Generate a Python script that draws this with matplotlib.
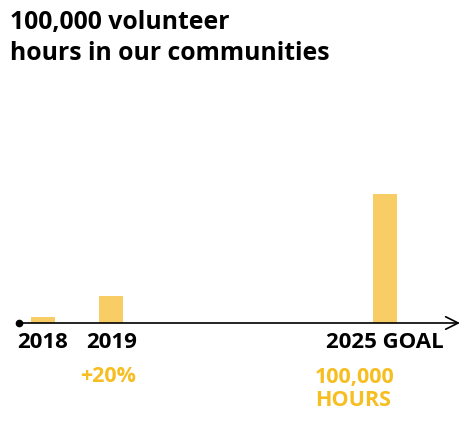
import matplotlib
matplotlib.use("Agg")
import matplotlib.pyplot as plt

# Data
categories = ["2018", "2019", "2025 GOAL"]
positions = [0, 1, 5]
hours = [4700, 21000, 100000]
title = "100,000 volunteer\nhours in our communities"
note_2019 = "+20%"
note_goal = "100,000\nHOURS"

BAR = "#F8CD66"
TXT_Y = "#F6BE21"
FONT = "Open Sans"

W, H = 474, 423
fig = plt.figure(figsize=(W / 100, H / 100), dpi=100)

px_per_unit = 68.4
x0_px = 43
left_px, right_px = 19, 460
base_px = 323  # from top
top_px = 194

ax = fig.add_axes([left_px / W, (H - base_px) / H, (right_px - left_px) / W, (base_px - top_px) / H])
ax.set_xlim((left_px - x0_px) / px_per_unit, (right_px - x0_px) / px_per_unit)
ax.set_ylim(0, 100000)
ax.axis("off")

ax.bar(positions, hours, width=24 / px_per_unit, color=BAR, zorder=2)

# baseline with dot and arrow
ax.annotate("", xy=(1, 0), xycoords="axes fraction", xytext=(0, 0), textcoords="axes fraction",
            arrowprops=dict(arrowstyle="->,head_length=0.9,head_width=0.45", color="black", lw=1.2,
                            shrinkA=0, shrinkB=0), annotation_clip=False, zorder=3)
ax.plot([0], [0], "o", color="black", ms=4.5, transform=ax.transAxes, clip_on=False, zorder=4)

for p, c in zip(positions, categories):
    ax.annotate(c, xy=(p, 0), xytext=(0, -19), textcoords="offset pixels", ha="center", va="center",
                fontsize=16, fontweight="bold", family=FONT, color="black", annotation_clip=False)

ax.annotate(note_2019, xy=(positions[1], 0), xytext=(-31, -53), textcoords="offset pixels",
            ha="left", va="center", fontsize=15.5, fontweight="bold", family=FONT, color=TXT_Y,
            annotation_clip=False)
ax.annotate(note_goal, xy=(positions[2], 0), xytext=(-70, -44), textcoords="offset pixels",
            ha="left", va="top", fontsize=15.5, fontweight="bold", family=FONT, color=TXT_Y,
            linespacing=1.12, annotation_clip=False)

fig.text(10 / W, 1 - 10 / H, title, ha="left", va="top", fontsize=17.8, fontweight="bold",
         family=FONT, color="black", linespacing=1.3)

fig.savefig("out.png", dpi=100, facecolor="white")
